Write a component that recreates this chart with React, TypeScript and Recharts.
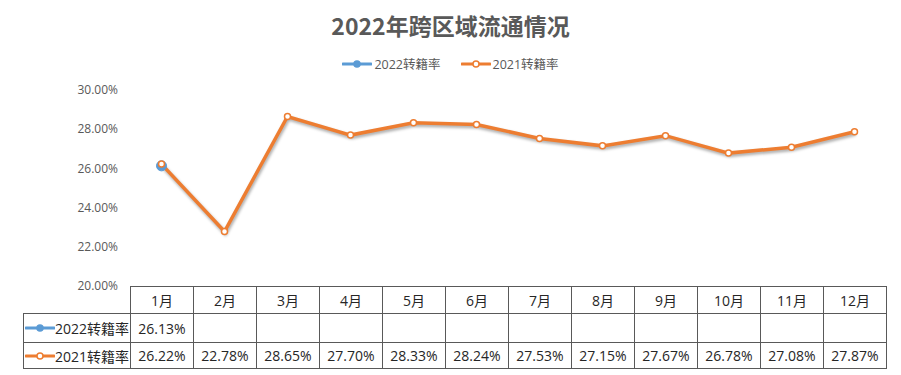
import React from 'react';
import { LineChart, Line, XAxis, YAxis } from 'recharts';

const months = ['1月', '2月', '3月', '4月', '5月', '6月', '7月', '8月', '9月', '10月', '11月', '12月'];
const rate2022: (number | null)[] = [26.13, null, null, null, null, null, null, null, null, null, null, null];
const rate2021 = [26.22, 22.78, 28.65, 27.7, 28.33, 28.24, 27.53, 27.15, 27.67, 26.78, 27.08, 27.87];
const yTicks = [20, 22, 24, 26, 28, 30];

const BLUE = '#5B9BD5';
const ORANGE = '#ED7D31';
const TEXT = '#595959';
const FONT = '"Noto Sans CJK SC", "Noto Sans", sans-serif';
const BODY_FONT = '"Open Sans", "Noto Sans CJK SC", sans-serif';

const PLOT_LEFT = 130;
const PLOT_RIGHT = 886;
const COL_W = (PLOT_RIGHT - PLOT_LEFT) / months.length;
const ROWS = [286, 313, 342, 368];

const data = months.map((m, i) => ({ month: m, r2022: rate2022[i], r2021: rate2021[i] }));

const fmt = (v: number | null) => (v == null ? '' : v.toFixed(2) + '%');

const LegendIcon: React.FC<{ color: string; hollow: boolean }> = ({ color, hollow }) => (
  <svg width={30} height={10} style={{ verticalAlign: 'middle' }}>
    <line x1={1} y1={5} x2={29} y2={5} stroke={color} strokeWidth={3} strokeLinecap="round" />
    <circle cx={15} cy={5} r={3} fill={hollow ? '#fff' : color} stroke={color} strokeWidth={1.5} />
  </svg>
);

const cell = (left: number, top: number, w: number, h: number, extra: React.CSSProperties = {}): React.CSSProperties => ({
  position: 'absolute',
  left,
  top,
  width: w,
  height: h,
  boxSizing: 'border-box',
  border: `1px solid ${TEXT}`,
  display: 'flex',
  alignItems: 'center',
  justifyContent: 'center',
  fontSize: 14,
  fontFamily: BODY_FONT,
  color: '#262626',
  whiteSpace: 'nowrap',
  ...extra,
});

const App: React.FC = () => {
  const rows = [
    { label: '2022转籍率', color: BLUE, hollow: false, values: rate2022 },
    { label: '2021转籍率', color: ORANGE, hollow: true, values: rate2021 },
  ];
  return (
    <div style={{ position: 'absolute', left: 0, top: 0, width: 901, height: 375, background: '#fff', fontFamily: FONT }}>
      <style>{`.shadow-line .recharts-line-curve { filter: drop-shadow(1px 2px 1.5px rgba(0,0,0,0.35)); }`}</style>
      <div style={{ position: 'absolute', left: 0, top: 8, width: 901, textAlign: 'center', fontSize: 23, fontWeight: 700, color: TEXT }}>
        2022年跨区域流通情况
      </div>
      <div style={{ position: 'absolute', left: 0, top: 54, width: 901, display: 'flex', justifyContent: 'center', gap: 20, fontSize: 12.5, color: TEXT, fontFamily: BODY_FONT }}>
        {rows.map((r) => (
          <span key={r.label} style={{ display: 'flex', alignItems: 'center', gap: 2 }}>
            <LegendIcon color={r.color} hollow={r.hollow} />
            {r.label}
          </span>
        ))}
      </div>
      <div style={{ position: 'absolute', left: 0, top: 0 }}>
        <LineChart width={901} height={375} data={data} margin={{ top: 90, right: 901 - PLOT_RIGHT, bottom: 375 - ROWS[0], left: 0 }}>
          <XAxis dataKey="month" hide padding={{ left: COL_W / 2, right: COL_W / 2 }} />
          <YAxis
            width={PLOT_LEFT}
            domain={[20, 30]}
            ticks={yTicks}
            tickFormatter={(v: number) => v.toFixed(2) + '%'}
            axisLine={false}
            tickLine={false}
            tickMargin={6}
            tick={{ fontSize: 12, fill: TEXT, fontFamily: BODY_FONT }}
          />
          <Line
            dataKey="r2022"
            stroke={BLUE}
            strokeWidth={3}
            dot={{ r: 5, fill: BLUE, stroke: BLUE, strokeWidth: 1 }}
            isAnimationActive={false}
            connectNulls={false}
          />
          <Line
            className="shadow-line"
            dataKey="r2021"
            stroke={ORANGE}
            strokeWidth={3.5}
            dot={{ r: 3, fill: '#fff', stroke: ORANGE, strokeWidth: 1.5 }}
            isAnimationActive={false}
          />
        </LineChart>
      </div>
      {months.map((m, i) => (
        <div key={m} style={cell(PLOT_LEFT + i * COL_W, ROWS[0], COL_W + 1, ROWS[1] - ROWS[0] + 1)}>{m}</div>
      ))}
      {rows.map((r, ri) => (
        <React.Fragment key={r.label}>
          <div style={cell(23, ROWS[ri + 1], PLOT_LEFT - 23 + 1, ROWS[ri + 2] - ROWS[ri + 1] + 1, { justifyContent: 'flex-start', paddingLeft: 1 })}>
            <LegendIcon color={r.color} hollow={r.hollow} />
            {r.label}
          </div>
          {r.values.map((v, i) => (
            <div key={i} style={cell(PLOT_LEFT + i * COL_W, ROWS[ri + 1], COL_W + 1, ROWS[ri + 2] - ROWS[ri + 1] + 1)}>{fmt(v)}</div>
          ))}
        </React.Fragment>
      ))}
    </div>
  );
};

export default App;
